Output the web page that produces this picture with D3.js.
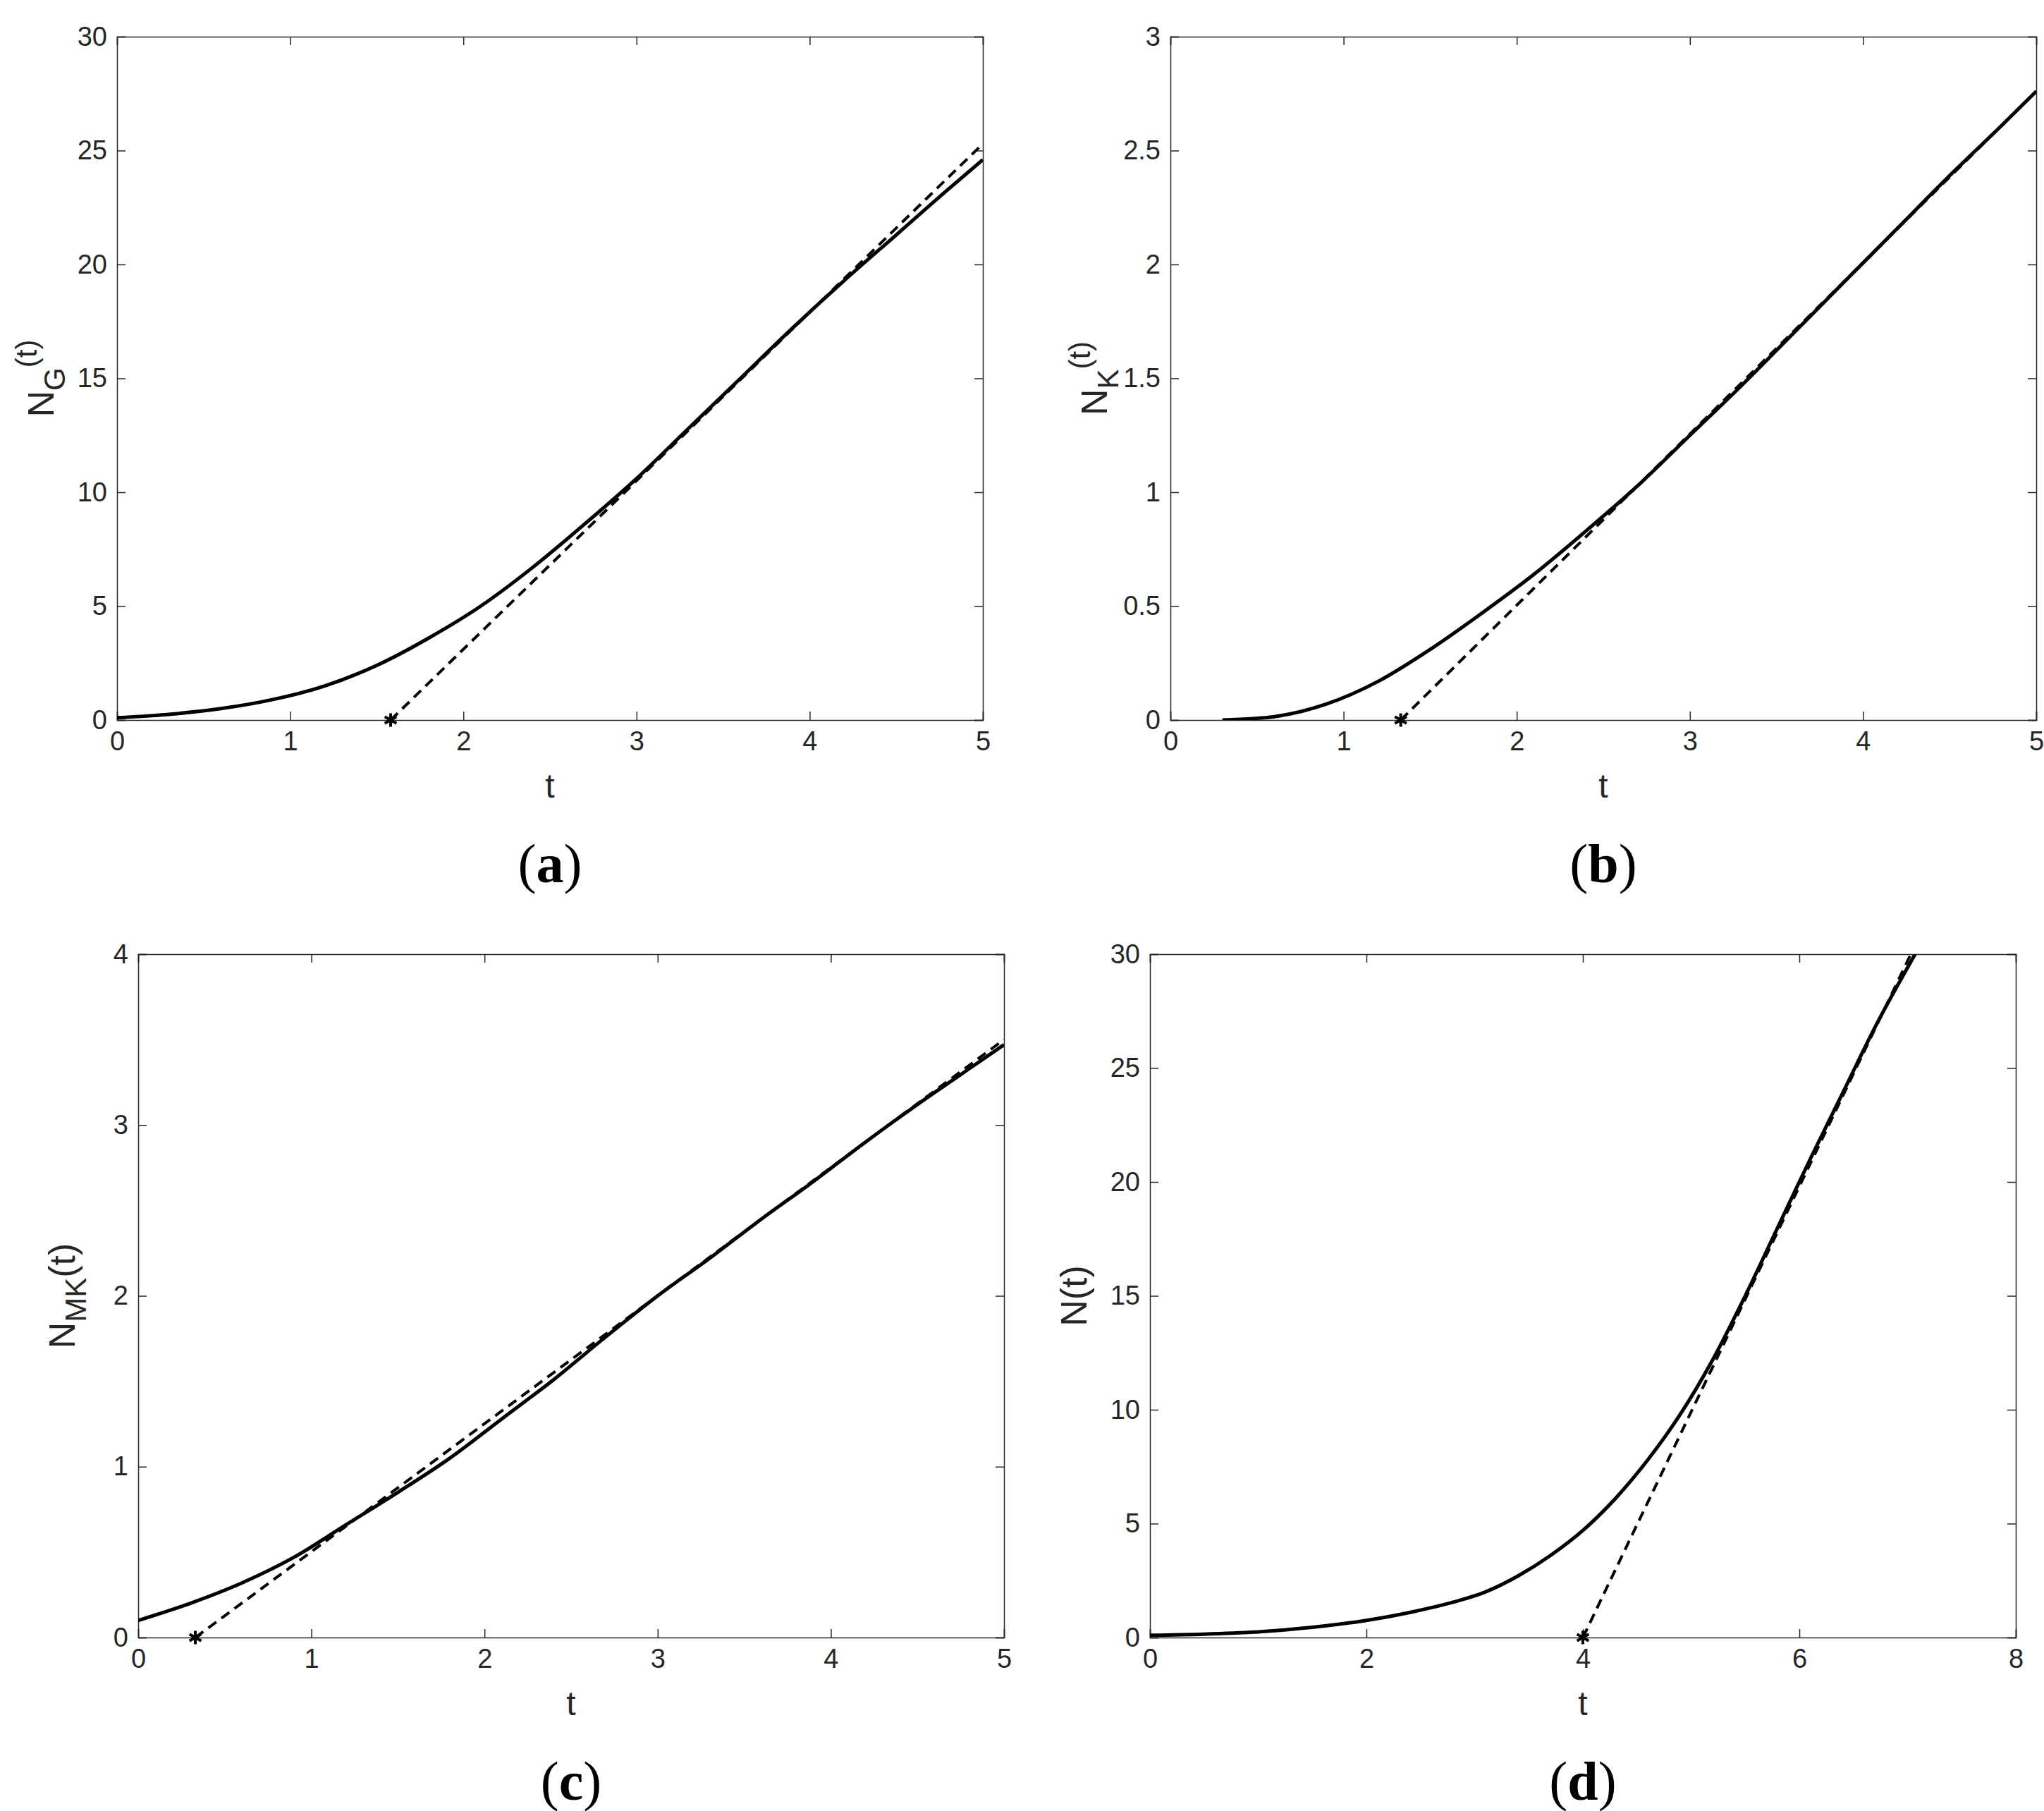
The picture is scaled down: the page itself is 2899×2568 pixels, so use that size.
<!DOCTYPE html>
<html><head><meta charset="utf-8">
<script src="https://cdn.jsdelivr.net/npm/d3@7"></script>
<style>body{margin:0;background:#fff}</style></head>
<body><svg id="c" width="2899" height="2568"></svg>
<script>
const aT=[0,0.3,0.6,0.9,1.2,1.5,1.8,2.1,2.4,2.7,3.0,3.3,3.6,3.9,4.2,4.5,4.8,5.0];
const aN=[0.1,0.25,0.5,0.9,1.5,2.4,3.6,5.0,6.7,8.6,10.6,12.8,15.0,17.2,19.3,21.3,23.3,24.6];
const aDash=[[1.58,0],[5,25.3]];
const bT=[0.3,0.6,0.9,1.2,1.5,1.8,2.1,2.4,2.7,3.0,3.3,3.6,3.9,4.2,4.5,4.8,5.0];
const bN=[0,0.015,0.07,0.17,0.31,0.47,0.64,0.83,1.03,1.25,1.47,1.70,1.93,2.16,2.39,2.61,2.76];
const bDash=[[1.33,0],[5,2.76]];
const cT=[0,0.3,0.6,0.9,1.2,1.5,1.8,2.1,2.4,2.7,3.0,3.3,3.6,3.9,4.2,4.5,4.8,5.0];
const cN=[0.1,0.2,0.32,0.47,0.66,0.85,1.05,1.28,1.51,1.76,2.0,2.22,2.45,2.67,2.9,3.12,3.33,3.47];
const cDash=[[0.33,0],[5,3.5]];
const dT=[0,0.5,1,1.5,2,2.4,2.8,3.1,3.4,3.7,4,4.3,4.6,4.9,5.2,5.5,5.8,6.1,6.4,6.7,7.07];
const dN=[0.1,0.15,0.25,0.45,0.75,1.1,1.55,2.0,2.7,3.6,4.7,6.1,7.8,9.8,12.2,15.0,18.0,21.0,23.9,26.8,30];
const dDash=[[4,0],[7.03,30]];
const panels=[
 {x0:166,x1:1394,y0:52,y1:1021,xd:[0,5],xt:[0,1,2,3,4,5],yd:[0,30],yt:[0,5,10,15,20,25,30],T:aT,N:aN,D:aDash,lab:"(a)",yl:["N","G","(t)"],sup:true},
 {x0:1660,x1:2888,y0:52,y1:1021,xd:[0,5],xt:[0,1,2,3,4,5],yd:[0,3],yt:[0,0.5,1,1.5,2,2.5,3],T:bT,N:bN,D:bDash,lab:"(b)",yl:["N","K","(t)"],sup:true},
 {x0:196,x1:1424,y0:1353,y1:2322,xd:[0,5],xt:[0,1,2,3,4,5],yd:[0,4],yt:[0,1,2,3,4],T:cT,N:cN,D:cDash,lab:"(c)",yl:["N","MK","(t)"],sup:false},
 {x0:1631,x1:2859,y0:1353,y1:2322,xd:[0,8],xt:[0,2,4,6,8],yd:[0,30],yt:[0,5,10,15,20,25,30],T:dT,N:dN,D:dDash,lab:"(d)",yl:["N","","(t)"],sup:false}
];
const svg=d3.select("#c");
panels.forEach((p,i)=>{
 const x=d3.scaleLinear().domain(p.xd).range([p.x0,p.x1]);
 const y=d3.scaleLinear().domain(p.yd).range([p.y1,p.y0]);
 const g=svg.append("g");
 g.append("clipPath").attr("id","cp"+i).append("rect").attr("x",p.x0).attr("y",p.y0).attr("width",p.x1-p.x0).attr("height",p.y1-p.y0);
 const tl=12, col="#262626";
 const ax=(a,tr)=>{const s=g.append("g").attr("transform",tr).call(a);s.select(".domain").attr("stroke",col).attr("stroke-width",1.5);s.selectAll("line").attr("stroke",col).attr("stroke-width",1.5);s.selectAll("text").attr("fill",col).style("font-family","Liberation Sans, Arial").style("font-size","38px");return s;};
 ax(d3.axisBottom(x).tickValues(p.xt).tickSize(-tl).tickPadding(16).tickFormat(d3.format("")),`translate(0,${p.y1})`);
 ax(d3.axisLeft(y).tickValues(p.yt).tickSize(-tl).tickPadding(14).tickFormat(d3.format("")),`translate(${p.x0},0)`);
 ax(d3.axisTop(x).tickValues(p.xt).tickSize(-tl).tickFormat(""),`translate(0,${p.y0})`);
 ax(d3.axisRight(y).tickValues(p.yt).tickSize(-tl).tickFormat(""),`translate(${p.x1},0)`);
 const line=d3.line().curve(d3.curveMonotoneX).x(d=>x(d[0])).y(d=>y(d[1]));
 const cg=g.append("g").attr("clip-path",`url(#cp${i})`);
 cg.append("path").attr("d",line(p.T.map((t,k)=>[t,p.N[k]]))).attr("fill","none").attr("stroke","#000").attr("stroke-width",5);
 cg.append("path").attr("d",d3.line().x(d=>x(d[0])).y(d=>y(d[1]))(p.D)).attr("fill","none").attr("stroke","#000").attr("stroke-width",4).attr("stroke-dasharray","14,9");
 const sx=x(p.D[0][0]), sy=y(p.D[0][1]);
 g.append("path").attr("d",d3.symbol(d3.symbolAsterisk,260)()).attr("transform",`translate(${sx},${sy})`).attr("stroke","#000").attr("stroke-width",4);
 const mx=(p.x0+p.x1)/2;
 g.append("text").attr("x",mx).attr("y",p.y1+110).attr("text-anchor","middle").attr("fill",col).style("font-family","Liberation Sans, Arial").style("font-size","48px").text("t");
 const lt=g.append("text").attr("transform",`translate(${p.x0-90},${(p.y0+p.y1)/2}) rotate(-90)`).attr("text-anchor","middle").attr("fill",col).style("font-family","Liberation Sans, Arial").style("font-size","52px");
 lt.append("tspan").text(p.yl[0]);
 if(p.yl[1]) lt.append("tspan").attr("dy",16).style("font-size","42px").text(p.yl[1]);
 lt.append("tspan").attr("dy",p.yl[1]?(p.sup?-40:-16):0).style("font-size",p.sup?"42px":"52px").text(p.yl[2]);
 const L=g.append("text").attr("x",mx).attr("y",p.y1+230).attr("text-anchor","middle").style("font-family","Liberation Serif, serif").style("font-size","78px");
 L.append("tspan").text("(");L.append("tspan").attr("font-weight","bold").text(p.lab[1]);L.append("tspan").text(")");
});
</script></body></html>
